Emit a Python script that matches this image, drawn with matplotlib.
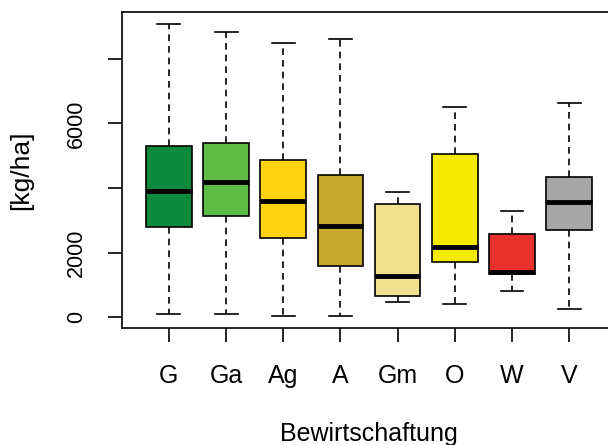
import numpy as np
import matplotlib.pyplot as plt

plt.rcParams['font.family'] = ['Liberation Sans', 'DejaVu Sans']

# Boxplot statistics
groups = ['G', 'Ga', 'Ag', 'A', 'Gm', 'O', 'W', 'V']
whislo = [93, 115, 31, 41, 465, 413, 806, 258]
q1 = [2781, 3132, 2450, 1581, 672, 1695, 1354, 2698]
med = [3907, 4176, 3587, 2822, 1271, 2171, 1405, 3556]
q3 = [5302, 5405, 4858, 4393, 3494, 5054, 2574, 4331]
whishi = [9085, 8827, 8496, 8600, 3886, 6522, 3297, 6646]
colors = ['#0b8a3e', '#5dbb46', '#fdd314', '#c8a92e',
          '#f0e190', '#f5eb00', '#e8312c', '#a6a6a6']

stats = []
for i, g in enumerate(groups):
    stats.append({'label': g, 'whislo': whislo[i], 'q1': q1[i], 'med': med[i],
                  'q3': q3[i], 'whishi': whishi[i], 'fliers': []})

fig = plt.figure(figsize=(6.08, 4.45), dpi=100)
ax = fig.add_axes([0.2007, 0.263, 0.8125, 0.71])

pos = np.arange(1, len(groups) + 1)
bp = ax.bxp(stats, positions=pos, widths=0.8, patch_artist=True,
            showfliers=False,
            boxprops=dict(edgecolor='black', linewidth=1.2),
            medianprops=dict(color='black', linewidth=3.5, solid_capstyle='butt'),
            whiskerprops=dict(color='black', linestyle=(0, (4, 3)), linewidth=1.2),
            capprops=dict(color='black', linewidth=1.2), capwidths=0.4)
for patch, c in zip(bp['boxes'], colors):
    patch.set_facecolor(c)

# R-style axis ranges (4% padding)
n = len(groups)
ax.set_xlim(0.5 - 0.04 * n, n + 0.5 + 0.04 * n)
lo, hi = min(whislo), max(whishi)
pad = 0.04 * (hi - lo)
ax.set_ylim(lo - pad, hi + pad)

ax.set_yticks([0, 2000, 4000, 6000, 8000])
ax.set_yticklabels(['0', '2000', '', '6000', ''], rotation=90, va='center', fontsize=15.5)
ax.set_xticks(pos)
ax.set_xticklabels(groups, fontsize=18)
ax.tick_params(axis='both', length=10, width=1.2)
ax.tick_params(axis='x', pad=16)
ax.tick_params(axis='y', pad=15)

for s in ax.spines.values():
    s.set_linewidth(1.2)

ax.set_ylabel('[kg/ha]', fontsize=19)
ax.yaxis.set_label_coords(-0.18, 0.5)
ax.set_xlabel('Bewirtschaftung', fontsize=18)
ax.xaxis.set_label_coords(0.5, -0.297)

fig.savefig('out.png', dpi=100)
